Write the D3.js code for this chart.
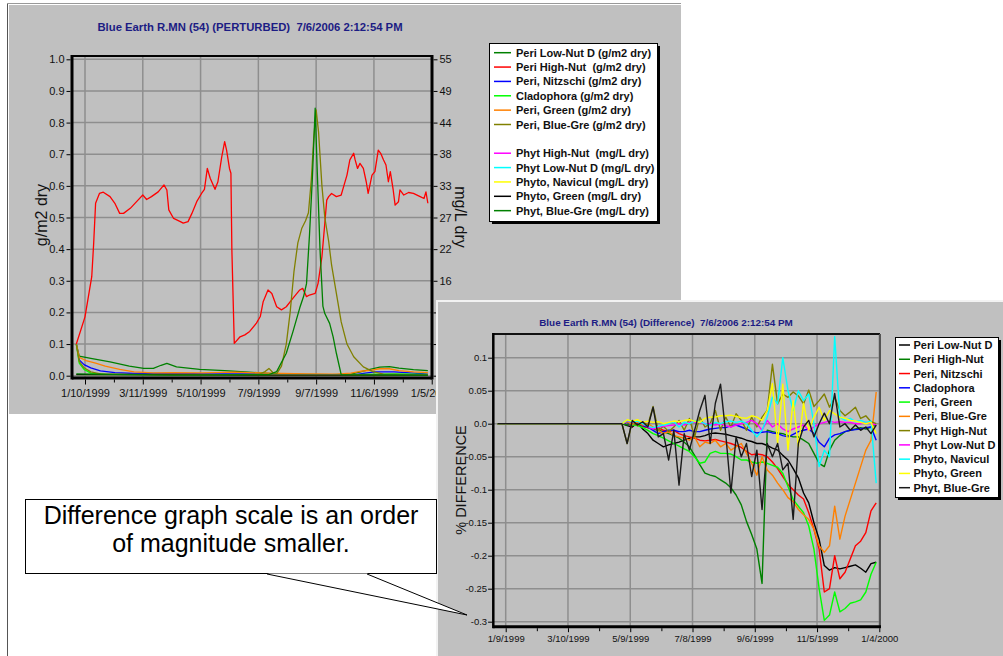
<!DOCTYPE html>
<html>
<head>
<meta charset="utf-8">
<script src="https://cdn.jsdelivr.net/npm/d3@7"></script>
<style>
  body { margin: 0; background: #fff; }
  svg { display: block; font-family: "Liberation Sans", Arial, sans-serif; }
  text { white-space: pre; }
</style>
</head>
<body>
<svg id="chart" width="1003" height="656"></svg>
<script>
// ---------- perturbed run (values: [day of 1999, value]) ----------
var perturbedNames = ["Peri Low-Nut D (g/m2 dry)", "Peri High-Nut  (g/m2 dry)", "Peri, Nitzschi (g/m2 dry)",
  "Cladophora (g/m2 dry)", "Peri, Green (g/m2 dry)", "Peri, Blue-Gre (g/m2 dry)",
  "Phyt High-Nut  (mg/L dry)", "Phyt Low-Nut D (mg/L dry)", "Phyto, Navicul (mg/L dry)",
  "Phyto, Green (mg/L dry)", "Phyt, Blue-Gre (mg/L dry)"];
var perturbedColors = ["#008000", "#ff0000", "#0000ff", "#00ff00", "#ff8000", "#808000",
  "#ff00ff", "#00ffff", "#ffff00", "#000000", "#008000"];

var periLowNut = [[0,0.1],[3,0.062],[15,0.055],[35,0.044],[55,0.03],[70,0.023],[80,0.023],[88,0.033],[94,0.039],
  [104,0.028],[128,0.02],[154,0.016],[175,0.012],[191,0.009],[210,0.006],[235,0.004],[265,0.003],[285,0.005],
  [295,0.012],[305,0.02],[315,0.027],[325,0.029],[335,0.024],[350,0.019],[365,0.016]];
var periHighNut = [[0,0.1],[9,0.186],[16,0.313],[18,0.418],[20,0.545],[24,0.576],[28,0.58],[35,0.566],[40,0.545],
  [45,0.513],[49,0.513],[56,0.529],[64,0.555],[69,0.571],[73,0.557],[78,0.566],[85,0.581],[91,0.603],[94,0.587],
  [96,0.524],[101,0.497],[108,0.487],[111,0.482],[116,0.487],[120,0.513],[125,0.55],[130,0.576],[133,0.589],
  [136,0.655],[139,0.624],[144,0.589],[147,0.613],[151,0.692],[154,0.74],[156,0.713],[159,0.655],[160.5,0.64],
  [161.5,0.397],[164,0.102],[170,0.123],[175,0.129],[180,0.14],[187,0.166],[191,0.187],[194,0.234],[199,0.271],
  [203,0.26],[208,0.218],[213,0.208],[218,0.218],[225,0.245],[232,0.271],[235,0.276],[239,0.25],[242,0.255],
  [248,0.26],[251,0.292],[255,0.376],[258,0.482],[260,0.555],[262,0.566],[265,0.576],[270,0.566],[275,0.571],
  [277,0.592],[281,0.634],[284,0.682],[288,0.703],[289.5,0.682],[292,0.655],[294.5,0.671],[298,0.655],[301,0.613],
  [303,0.576],[307,0.634],[310,0.645],[313.5,0.713],[316,0.703],[319,0.682],[321.5,0.666],[324,0.613],[326,0.645],
  [329,0.587],[331,0.539],[334.5,0.55],[336,0.587],[340,0.571],[345,0.579],[350,0.576],[357,0.566],[361,0.56],
  [363,0.581],[365,0.545]];
var periNitzschi = [[0,0.1],[3,0.05],[8,0.035],[15,0.025],[25,0.015],[40,0.01],[60,0.007],[100,0.007],[140,0.006],
  [180,0.006],[200,0.004],[260,0.003],[290,0.003],[300,0.008],[310,0.012],[330,0.012],[350,0.008],[365,0.005]];
var cladophora = [[0,0.1],[3,0.04],[8,0.02],[15,0.008],[30,0.004],[100,0.003],[200,0.002],[280,0.002],[300,0.004],
  [330,0.006],[365,0.004]];
var periGreen = [[0,0.1],[3,0.058],[10,0.048],[20,0.04],[30,0.03],[45,0.02],[60,0.012],[80,0.009],[100,0.01],
  [130,0.009],[165,0.011],[200,0.008],[240,0.006],[270,0.005],[285,0.008],[295,0.014],[305,0.017],[315,0.022],
  [325,0.022],[335,0.016],[350,0.012],[365,0.01]];
var periBlueGre = [[0,0.1],[3,0.045],[8,0.025],[15,0.012],[25,0.006],[60,0.004],[150,0.003],[190,0.004],[196,0.013],
  [200,0.023],[204,0.01],[208,0.006],[213,0.03],[218,0.1],[222,0.2],[226,0.33],[230,0.42],[234,0.465],[238,0.49],
  [241,0.515],[244,0.62],[246.5,0.75],[249,0.84],[251.5,0.77],[255,0.6],[258,0.5],[262,0.425],[265,0.35],[270,0.26],
  [275,0.17],[281,0.1],[288,0.06],[298,0.028],[308,0.013],[319,0.005],[365,0.002]];
// phytoplankton series are in mg/L (right axis)
var phytHighNut = [[0,0.2],[180,0.1],[365,0.1]];
var phytLowNut = [[0,0.2],[180,0.1],[365,0.1]];
var phytoNavicul = [[0,0.2],[180,0.1],[365,0.1]];
var phytoGreen = [[0,0.2],[180,0.1],[365,0.1]];
var phytBlueGre = [[0,0.3],[100,0.1],[200,0.2],[208,0.7],[218,3.9],[225,7.7],[232,11.8],[236,13.8],[239,16],
  [242,24.2],[245,34.1],[248,46.5],[250,36.3],[253,22],[256,12.1],[258,10.8],[263,9.1],[266.6,6.8],[270,3.9],
  [275,0.2],[365,0.1]];

var perturbedSeries = [periLowNut, periHighNut, periNitzschi, cladophora, periGreen, periBlueGre,
  phytHighNut, phytLowNut, phytoNavicul, phytoGreen, phytBlueGre];
var perturbedOnRight = [false, false, false, false, false, false, true, true, true, true, true];

var xLabels1 = ["1/10/1999", "3/11/1999", "5/10/1999", "7/9/1999", "9/7/1999", "11/6/1999", "1/5/2000"];
var yTicks1 = [0, 0.1, 0.2, 0.3, 0.4, 0.5, 0.6, 0.7, 0.8, 0.9, 1.0];
var rightLabels1 = ["0", "5", "11", "16", "22", "27", "33", "38", "44", "49", "55"];

// ---------- difference run ----------
var diffNames = ["Peri Low-Nut D", "Peri High-Nut", "Peri, Nitzschi", "Cladophora", "Peri, Green", "Peri, Blue-Gre",
  "Phyt High-Nut", "Phyt Low-Nut D", "Phyto, Navicul", "Phyto, Green", "Phyt, Blue-Gre"];
var diffColors = ["#000000", "#008000", "#ff0000", "#0000ff", "#00ff00", "#ff8000",
  "#808000", "#ff00ff", "#00ffff", "#ffff00", "#1a1a1a"];

var diffDays = [0,120,125,130,135,140,145,150,155,160,165,170,175,180,185,190,195,200,205,210,215,220,225,230,
  235,240,245,250,255,260,265,270,275,280,285,290,295,300,305,310,315,320,325,330,335,340,345,350,355,360,365];

var dPeriLowNut = [0,0,
  -0.003,-0.005,0.002,-0.008,-0.015,-0.025,-0.03,-0.035,-0.032,
  -0.03,-0.028,-0.025,-0.022,-0.02,-0.02,-0.018,-0.015,-0.014,-0.015,
  -0.016,-0.018,-0.02,-0.022,-0.025,-0.027,-0.03,-0.03,-0.033,-0.037,
  -0.04,-0.048,-0.055,-0.068,-0.082,-0.105,-0.12,-0.15,-0.175,-0.215,
  -0.222,-0.218,-0.22,-0.218,-0.216,-0.214,-0.219,-0.225,-0.212,-0.21];
var dPeriHighNut = [0,0,
  -0.002,0.003,-0.002,-0.004,-0.006,-0.008,-0.01,-0.012,-0.015,
  -0.018,-0.022,-0.028,-0.035,-0.048,-0.062,-0.075,-0.078,-0.08,-0.085,
  -0.09,-0.097,-0.108,-0.123,-0.148,-0.168,-0.19,-0.242,-0.01,-0.012,
  -0.014,-0.015,-0.018,-0.02,-0.02,-0.025,-0.03,-0.045,-0.06,-0.065,
  -0.04,-0.025,-0.018,-0.012,-0.01,-0.008,-0.006,-0.008,-0.005,-0.002];
var dPeriNitzschi = [0,0,
  0.002,-0.003,0.003,-0.004,-0.006,-0.008,-0.006,-0.01,-0.012,
  -0.01,-0.015,-0.018,-0.02,-0.022,-0.025,-0.026,-0.025,-0.024,-0.026,
  -0.028,-0.03,-0.033,-0.036,-0.042,-0.047,-0.046,-0.047,-0.05,-0.058,
  -0.068,-0.08,-0.092,-0.1,-0.108,-0.114,-0.135,-0.16,-0.19,-0.255,
  -0.25,-0.2,-0.235,-0.225,-0.205,-0.185,-0.178,-0.165,-0.132,-0.12];
var dCladophora = [0,0,
  0.002,-0.002,0.002,-0.003,-0.005,-0.01,-0.015,-0.012,-0.01,
  -0.01,-0.012,-0.012,-0.01,-0.012,-0.012,-0.01,-0.008,-0.007,-0.006,
  -0.006,-0.003,-0.002,-0.005,-0.008,-0.012,-0.014,-0.013,-0.012,-0.014,
  -0.015,-0.018,-0.02,-0.016,-0.012,-0.01,-0.008,-0.015,-0.028,-0.035,
  -0.022,-0.017,-0.015,-0.012,-0.01,-0.009,-0.008,-0.006,-0.005,-0.025];
var dPeriGreen = [0,0,
  0.003,-0.002,-0.003,-0.006,-0.01,-0.015,-0.018,-0.022,-0.026,
  -0.03,-0.034,-0.038,-0.042,-0.05,-0.06,-0.058,-0.045,-0.042,-0.045,
  -0.045,-0.046,-0.05,-0.055,-0.055,-0.058,-0.06,-0.058,-0.06,-0.063,
  -0.066,-0.075,-0.095,-0.115,-0.125,-0.135,-0.155,-0.19,-0.25,-0.298,
  -0.29,-0.255,-0.285,-0.28,-0.272,-0.27,-0.267,-0.255,-0.228,-0.21];
var dPeriBlueGre = [0,0,
  0.003,-0.001,0.002,-0.002,0.0,-0.005,-0.01,-0.015,-0.012,
  -0.018,-0.02,-0.022,-0.025,-0.02,-0.035,-0.028,-0.03,-0.025,-0.035,
  -0.03,-0.04,-0.035,-0.03,-0.045,-0.06,-0.078,-0.05,-0.07,-0.078,
  -0.09,-0.1,-0.112,-0.118,-0.13,-0.138,-0.145,-0.16,-0.185,-0.195,
  -0.185,-0.125,-0.175,-0.14,-0.115,-0.09,-0.065,-0.04,-0.025,0.048];
var dPhytHighNut = [0,0,
  -0.03,0.004,-0.003,0.003,-0.002,0.026,-0.01,-0.004,-0.012,
  -0.005,0.005,-0.01,0.008,-0.02,0.01,-0.005,0.0,0.02,-0.01,
  0.01,-0.005,0.015,0.005,-0.01,0.01,-0.005,0.01,0.02,0.09,
  0.03,0.045,0.04,0.048,0.042,0.03,0.051,0.026,0.035,0.045,
  0.025,0.04,0.02,0.012,0.018,0.025,0.008,0.012,0.003,0.0];
var dPhytLowNut = [0,0,
  0.004,0.002,0.004,0.0,-0.005,-0.008,-0.005,-0.004,-0.003,
  -0.002,0.0,-0.002,0.002,0.003,0.002,0.0,0.0,-0.002,0.0,
  -0.003,-0.005,-0.002,0.0,0.002,0.005,0.0,-0.01,0.005,-0.005,
  0.0,-0.008,-0.012,-0.008,-0.005,-0.002,-0.01,-0.005,0.0,0.002,
  0.004,0.002,0.003,0.002,0.002,0.0,0.0,0.002,0.0,-0.002];
var dPhytoNavicul = [0,0,
  0.005,0.003,0.004,0.0,-0.004,-0.006,-0.004,-0.002,0.0,
  0.003,-0.005,0.002,0.0,0.004,0.003,0.0,-0.003,0.002,0.0,
  0.003,0.004,0.002,0.004,0.0,-0.01,-0.02,-0.01,0.01,0.04,
  0.03,0.1,0.05,0.02,0.05,0.035,0.045,0.0,-0.065,-0.04,
  -0.05,0.132,0.01,0.005,0.008,0.003,0.005,0.002,0.004,-0.09];
var dPhytoGreen = [0,0,
  0.006,0.004,0.006,0.002,0.004,0.002,0.003,0.0,0.002,
  0.004,0.003,0.005,0.006,0.004,0.002,0.008,0.01,0.01,0.012,
  0.012,0.013,0.011,0.009,0.008,0.012,0.01,0.005,0.02,0.061,
  -0.03,0.06,-0.04,0.035,-0.035,0.031,-0.01,0.01,0.025,0.005,
  0.02,0.015,0.01,0.008,0.005,0.004,0.002,0.0,0.002,-0.015];
var dPhytBlueGre = [0,0,
  -0.03,0.005,-0.002,0.003,-0.005,0.025,-0.02,-0.015,-0.055,
  -0.01,-0.093,-0.015,-0.04,-0.01,0.02,0.043,-0.03,0.031,0.06,
  -0.015,-0.105,-0.02,-0.05,-0.03,-0.08,-0.04,-0.13,-0.03,-0.05,
  -0.03,-0.07,-0.06,-0.145,-0.03,-0.005,0.005,-0.02,0.0,0.016,
  0.0,0.046,-0.005,0.0,-0.01,-0.002,-0.01,-0.005,-0.015,-0.002];

var diffSeries = [dPeriLowNut, dPeriHighNut, dPeriNitzschi, dCladophora, dPeriGreen, dPeriBlueGre,
  dPhytHighNut, dPhytLowNut, dPhytoNavicul, dPhytoGreen, dPhytBlueGre];

var xLabels2 = ["1/9/1999", "3/10/1999", "5/9/1999", "7/8/1999", "9/6/1999", "11/5/1999", "1/4/2000"];
var yTicks2 = [-0.3, -0.25, -0.2, -0.15, -0.1, -0.05, 0, 0.05, 0.1];
var yLabels2 = ["-0.3", "-0.25", "-0.2", "-0.15", "-0.1", "-0.05", "0.0", "0.05", "0.1"];

var calloutLines = ["Difference graph scale is an order", "of magnitude smaller."];

// ---------- helpers ----------
var parseDate = d3.timeParse("%m/%d/%Y");
function dayDate(d) {
  return new Date(1999, 0, 1 + Math.floor(d), (d % 1) * 24);
}
function addDays(date, n) {
  return new Date(date.getFullYear(), date.getMonth(), date.getDate() + n);
}
var svg = d3.select("#chart");
var gridColor = "#8e8e8e";
var navy = "#1c1c84";

function styleAxis(sel, size) {
  sel.select(".domain").remove();
  sel.selectAll(".tick line").attr("stroke", "#000");
  sel.selectAll(".tick text").attr("fill", "#111").style("font-size", size + "px")
    .style("font-family", "'Liberation Sans', Arial, sans-serif");
}

// slide frame
svg.append("line").attr("x1", 7.5).attr("x2", 7.5).attr("y1", 3).attr("y2", 656).attr("stroke", "#555");
svg.append("line").attr("x1", 7).attr("x2", 681).attr("y1", 3.5).attr("y2", 3.5).attr("stroke", "#999");

// =============== chart 1 : perturbed ===============
var g1 = svg.append("g");
g1.append("rect").attr("x", 9).attr("y", 5).attr("width", 672).attr("height", 409).attr("fill", "#c0c0c0");

var box1 = {left: 72, right: 432, top: 56, bottom: 378};
var x1 = d3.scaleTime().domain([new Date(1998, 11, 27, 12), new Date(2000, 0, 5, 7)]).range([box1.left, box1.right]);
var y1 = d3.scaleLinear().domain([0, 1]).range([375.7, 59.3]);
var yR1 = d3.scaleLinear().domain([0, 55]).range([375.7, 59.3]);

var majors1 = xLabels1.map(parseDate);
var minors1 = majors1.slice(0, -1).map(function(d) { return addDays(d, 30); });

g1.append("g").selectAll("line").data(yTicks1).join("line")
  .attr("x1", box1.left).attr("x2", box1.right)
  .attr("y1", function(d) { return y1(d); }).attr("y2", function(d) { return y1(d); })
  .attr("stroke", gridColor).attr("stroke-width", 1.5);
g1.append("g").selectAll("line").data(majors1).join("line")
  .attr("x1", function(d) { return x1(d); }).attr("x2", function(d) { return x1(d); })
  .attr("y1", box1.top).attr("y2", box1.bottom)
  .attr("stroke", gridColor).attr("stroke-width", 1.5);

perturbedSeries.forEach(function(s, i) {
  var ys = perturbedOnRight[i] ? yR1 : y1;
  var line = d3.line().x(function(d) { return x1(dayDate(d[0])); }).y(function(d) { return ys(d[1]); });
  g1.append("path").datum(s).attr("d", line).attr("fill", "none")
    .attr("stroke", perturbedColors[i]).attr("stroke-width", 1.3).attr("stroke-linejoin", "round");
});

// box
g1.append("line").attr("x1", box1.left).attr("x2", box1.right).attr("y1", box1.top).attr("y2", box1.top).attr("stroke", "#000").attr("stroke-width", 2);
g1.append("line").attr("x1", box1.left).attr("x2", box1.right).attr("y1", box1.bottom).attr("y2", box1.bottom).attr("stroke", "#000").attr("stroke-width", 3);
g1.append("line").attr("x1", box1.left).attr("x2", box1.left).attr("y1", box1.top - 1).attr("y2", box1.bottom + 1.5).attr("stroke", "#000").attr("stroke-width", 3);
g1.append("line").attr("x1", box1.right).attr("x2", box1.right).attr("y1", box1.top - 1).attr("y2", box1.bottom + 1.5).attr("stroke", "#000").attr("stroke-width", 3);

g1.append("g").attr("transform", "translate(" + (box1.left - 1.5) + ",0)")
  .call(d3.axisLeft(y1).tickValues(yTicks1).tickFormat(d3.format(".1f")).tickSize(4).tickPadding(2))
  .call(styleAxis, 11);
g1.append("g").attr("transform", "translate(" + (box1.right + 1.5) + ",0)")
  .call(d3.axisRight(yR1).tickValues(rightLabels1.map(function(d, i) { return i * 5.5; }))
    .tickFormat(function(d, i) { return rightLabels1[i]; }).tickSize(4).tickPadding(2))
  .call(styleAxis, 11);
g1.append("g").attr("transform", "translate(0," + (box1.bottom + 1.5) + ")")
  .call(d3.axisBottom(x1).tickValues(majors1).tickFormat(function(d, i) { return xLabels1[i]; }).tickSize(5).tickPadding(5))
  .call(styleAxis, 11);
g1.append("g").attr("transform", "translate(0," + (box1.bottom + 1.5) + ")")
  .call(d3.axisBottom(x1).tickValues(minors1).tickFormat("").tickSize(3))
  .call(styleAxis, 11);

g1.append("text").attr("x", 250).attr("y", 31).attr("text-anchor", "middle")
  .attr("fill", navy).style("font-weight", "bold").style("font-size", "11.3px")
  .text("Blue Earth R.MN (54) (PERTURBED)  7/6/2006 2:12:54 PM");
g1.append("text").attr("transform", "translate(47,215) rotate(-90)").attr("text-anchor", "middle")
  .style("font-size", "16px").attr("fill", "#111").text("g/m2 dry");
g1.append("text").attr("transform", "translate(455,217) rotate(90)").attr("text-anchor", "middle")
  .style("font-size", "16px").attr("fill", "#111").text("mg/L dry");

// legend 1
var leg1 = g1.append("g");
leg1.append("rect").attr("x", 492).attr("y", 46).attr("width", 168).attr("height", 178).attr("fill", "#000");
leg1.append("rect").attr("x", 489.5).attr("y", 43.5).attr("width", 168).attr("height", 178).attr("fill", "#fff").attr("stroke", "#000");
perturbedNames.forEach(function(name, i) {
  var ry = 52.7 + (i < 6 ? i : i + 1) * 14.36;
  leg1.append("line").attr("x1", 494).attr("x2", 511).attr("y1", ry).attr("y2", ry)
    .attr("stroke", perturbedColors[i]).attr("stroke-width", 1.5);
  leg1.append("text").attr("x", 516).attr("y", ry + 4).style("font-size", "11px").style("font-weight", "bold")
    .attr("fill", "#111").text(name);
});

// =============== chart 2 : difference ===============
var g2 = svg.append("g");
g2.append("rect").attr("x", 437).attr("y", 301).attr("width", 580).attr("height", 370)
  .attr("fill", "#c0c0c0").attr("stroke", "#f2f2f2").attr("stroke-width", 2);

var box2 = {left: 493.3, right: 880, top: 334, bottom: 626.7};
var x2 = d3.scaleTime().domain([new Date(1998, 11, 28, 1), new Date(2000, 0, 4, 16)]).range([box2.left, box2.right]);
var y2 = d3.scaleLinear().domain([-0.3, 0.1]).range([621.7, 357.7]);

var majors2 = xLabels2.map(parseDate);
var minors2 = majors2.slice(0, -1).map(function(d) { return addDays(d, 30); });

g2.append("g").selectAll("line").data(yTicks2).join("line")
  .attr("x1", box2.left).attr("x2", box2.right)
  .attr("y1", function(d) { return y2(d); }).attr("y2", function(d) { return y2(d); })
  .attr("stroke", gridColor).attr("stroke-width", 1.5);
g2.append("g").selectAll("line").data(majors2).join("line")
  .attr("x1", function(d) { return x2(d); }).attr("x2", function(d) { return x2(d); })
  .attr("y1", box2.top).attr("y2", box2.bottom)
  .attr("stroke", gridColor).attr("stroke-width", 1.5);

diffSeries.forEach(function(s, i) {
  var line = d3.line().x(function(d, j) { return x2(dayDate(diffDays[j])); }).y(function(d) { return y2(d); });
  g2.append("path").datum(s).attr("d", line).attr("fill", "none")
    .attr("stroke", diffColors[i]).attr("stroke-width", 1.4).attr("stroke-linejoin", "round");
});

g2.append("line").attr("x1", box2.left).attr("x2", box2.right).attr("y1", box2.top).attr("y2", box2.top).attr("stroke", "#111").attr("stroke-width", 2);
g2.append("line").attr("x1", box2.right).attr("x2", box2.right).attr("y1", box2.top).attr("y2", box2.bottom).attr("stroke", "#555").attr("stroke-width", 2);
g2.append("line").attr("x1", box2.left).attr("x2", box2.right + 1).attr("y1", box2.bottom).attr("y2", box2.bottom).attr("stroke", "#000").attr("stroke-width", 3);
g2.append("line").attr("x1", box2.left).attr("x2", box2.left).attr("y1", box2.top - 1).attr("y2", box2.bottom + 1.5).attr("stroke", "#000").attr("stroke-width", 2.5);

g2.append("g").attr("transform", "translate(" + (box2.left - 1.2) + ",0)")
  .call(d3.axisLeft(y2).tickValues(yTicks2).tickFormat(function(d, i) { return yLabels2[i]; }).tickSize(4).tickPadding(1))
  .call(styleAxis, 9.5);
g2.append("g").attr("transform", "translate(0," + (box2.bottom + 1.5) + ")")
  .call(d3.axisBottom(x2).tickValues(majors2).tickFormat(function(d, i) { return xLabels2[i]; }).tickSize(4).tickPadding(3))
  .call(styleAxis, 9.5);
g2.append("g").attr("transform", "translate(0," + (box2.bottom + 1.5) + ")")
  .call(d3.axisBottom(x2).tickValues(minors2).tickFormat("").tickSize(3))
  .call(styleAxis, 9.5);

g2.append("text").attr("x", 666).attr("y", 326).attr("text-anchor", "middle")
  .attr("fill", navy).style("font-weight", "bold").style("font-size", "9.9px")
  .text("Blue Earth R.MN (54) (Difference)  7/6/2006 2:12:54 PM");
g2.append("text").attr("transform", "translate(466,480) rotate(-90)").attr("text-anchor", "middle")
  .style("font-size", "14.5px").attr("fill", "#111").text("% DIFFERENCE");

// legend 2
var leg2 = g2.append("g");
leg2.append("rect").attr("x", 898).attr("y", 340).attr("width", 103).attr("height", 160).attr("fill", "#000");
leg2.append("rect").attr("x", 895.5).attr("y", 337.5).attr("width", 103).attr("height", 160).attr("fill", "#fff").attr("stroke", "#000");
diffNames.forEach(function(name, i) {
  var ry = 345 + i * 14.27;
  leg2.append("line").attr("x1", 899).attr("x2", 910).attr("y1", ry).attr("y2", ry)
    .attr("stroke", diffColors[i]).attr("stroke-width", 1.5);
  leg2.append("text").attr("x", 913.5).attr("y", ry + 4).style("font-size", "11px").style("font-weight", "bold")
    .attr("fill", "#111").text(name);
});

// =============== callout ===============
var callout = svg.append("g");
callout.append("rect").attr("x", 25.5).attr("y", 499.5).attr("width", 411).attr("height", 74)
  .attr("fill", "#fff").attr("stroke", "#000");
callout.append("path").attr("d", "M267,573.5 L467,615 L367,573.5 Z").attr("fill", "#fff");
callout.append("path").attr("d", "M267,574 L467,615 L367,574").attr("fill", "none").attr("stroke", "#000");
callout.selectAll("text.c").data(calloutLines).join("text")
  .attr("x", 231).attr("y", function(d, i) { return 524 + i * 27.7; })
  .attr("text-anchor", "middle").style("font-size", "25px").attr("fill", "#000")
  .text(function(d) { return d; });
</script>
</body>
</html>
